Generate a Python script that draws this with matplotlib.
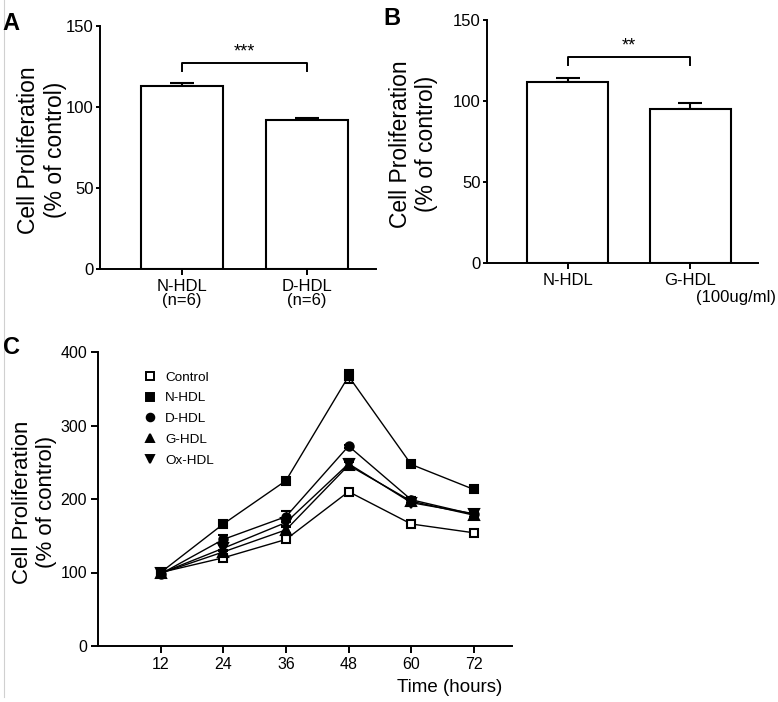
import matplotlib
matplotlib.use('Agg')
import matplotlib.pyplot as plt
from matplotlib.lines import Line2D

plt.rcParams['font.family'] = ['Liberation Sans', 'DejaVu Sans']

# panel A
a_labels = ['N-HDL\n(n=6)', 'D-HDL\n(n=6)']
a_vals = [113, 92]
a_err = [2, 1.5]
# panel B
b_labels = ['N-HDL', 'G-HDL']
b_vals = [111.5, 95]
b_err = [3, 3.5]
# panel C
hours = [12, 24, 36, 48, 60, 72]
series = ['Control', 'N-HDL', 'D-HDL', 'G-HDL', 'Ox-HDL']
c_vals = {
    'Control': [100, 120, 145, 210, 166, 154],
    'N-HDL': [100, 166, 225, 367, 247, 213],
    'D-HDL': [98, 145, 176, 272, 199, 179],
    'G-HDL': [99, 128, 158, 246, 197, 178],
    'Ox-HDL': [99, 133, 168, 248, 195, 180],
}
c_err = {
    'Control': [2, 3, 3, 4, 3, 3],
    'N-HDL': [2, 2, 3, 9, 3, 2],
    'D-HDL': [2, 6, 7, 2, 4, 3],
    'G-HDL': [2, 3, 4, 4, 5, 4],
    'Ox-HDL': [2, 4, 5, 6, 4, 5],
}
markers = {'Control': 's', 'N-HDL': 's', 'D-HDL': 'o', 'G-HDL': '^', 'Ox-HDL': 'v'}

fig = plt.figure(figsize=(7.78, 7.02), dpi=100)
W, H = 778, 702


def px_axes(l, t, r, b):
    return fig.add_axes([l / W, 1 - b / H, (r - l) / W, (b - t) / H])


def style(ax, fs, length=5, pad=3):
    for s in ['top', 'right']:
        ax.spines[s].set_visible(False)
    for s in ['left', 'bottom']:
        ax.spines[s].set_linewidth(1.4)
    ax.tick_params(direction='out', width=1.4, length=length, labelsize=fs, pad=pad)


def bar_panel(ax, labels, vals, errs, stars, lab_x):
    x = [0, 1]
    ax.bar(x, vals, width=0.66, color='white', edgecolor='black', linewidth=1.5, zorder=2)
    ax.errorbar(x, vals, yerr=[[0, 0], errs], fmt='none', ecolor='black',
                elinewidth=1.5, capsize=8.4, capthick=1.5, zorder=1)
    ax.set_xlim(-0.655, 1.55)
    ax.set_ylim(0, 150)
    ax.set_yticks([0, 50, 100, 150])
    ax.set_xticks(x)
    ax.set_xticklabels(labels, linespacing=0.95)
    style(ax, 12, length=3, pad=1.5)
    ax.tick_params(axis='x', length=4, labelsize=12, pad=3)
    ax.plot([0, 0, 1, 1], [122, 127, 127, 122], color='black', lw=1.4, clip_on=False)
    ax.text(0.5, 129, stars, ha='center', va='bottom', fontsize=13)
    ax.set_ylabel('Cell Proliferation\n(% of control)', fontsize=16.5)
    ax.yaxis.set_label_coords(lab_x, 0.49)


axA = px_axes(100, 26, 376, 269)
bar_panel(axA, a_labels, a_vals, a_err, '***', -0.12)

axB = px_axes(487, 20, 758, 263)
bar_panel(axB, b_labels, b_vals, b_err, '**', -0.18)
axB.text(1.37, -0.14, '(100ug/ml)', transform=axB.get_xaxis_transform(),
         ha='center', va='center', fontsize=12)

axC = px_axes(98, 352, 512, 646)
for name in series:
    fill = 'white' if name == 'Control' else 'black'
    ms = 7 if name in ('G-HDL', 'Ox-HDL') else 6
    axC.errorbar(hours, c_vals[name], yerr=c_err[name], color='black', lw=1,
                 marker=markers[name], ms=ms, mfc=fill, mec='black', mew=1.5,
                 capsize=3.5, capthick=1, elinewidth=1)
axC.set_xlim(0, 79.3)
axC.set_ylim(0, 400)
axC.set_xticks(hours)
axC.set_yticks([0, 100, 200, 300, 400])
style(axC, 11.5)
axC.set_ylabel('Cell Proliferation\n(% of control)', fontsize=16)
axC.yaxis.set_label_coords(-0.099, 0.49)
axC.text(0.976, -0.14, 'Time (hours)', transform=axC.transAxes,
         ha='right', va='center', fontsize=13.5)

handles = []
for name in series:
    fill = 'white' if name == 'Control' else 'black'
    handles.append(Line2D([], [], ls='none', marker=markers[name], ms=5.5,
                          mfc=fill, mec='black', mew=1.4))
axC.legend(handles, series, loc='upper left', bbox_to_anchor=(0.11, 0.935),
           frameon=False, fontsize=9.7, handlelength=1, handletextpad=0.6,
           labelspacing=0.62, borderpad=0, borderaxespad=0)

fig.text(11 / W, 1 - 12 / H, 'A', fontsize=17, fontweight='bold', ha='center', va='top')
fig.text(392 / W, 1 - 7 / H, 'B', fontsize=17, fontweight='bold', ha='center', va='top')
fig.text(12 / W, 1 - 336 / H, 'C', fontsize=17, fontweight='bold', ha='center', va='top')
fig.add_artist(Line2D([3.5 / W, 3.5 / W], [1 - 697 / H, 1], color='#d0d0d0', lw=0.8))

fig.savefig('out.png', dpi=100)
